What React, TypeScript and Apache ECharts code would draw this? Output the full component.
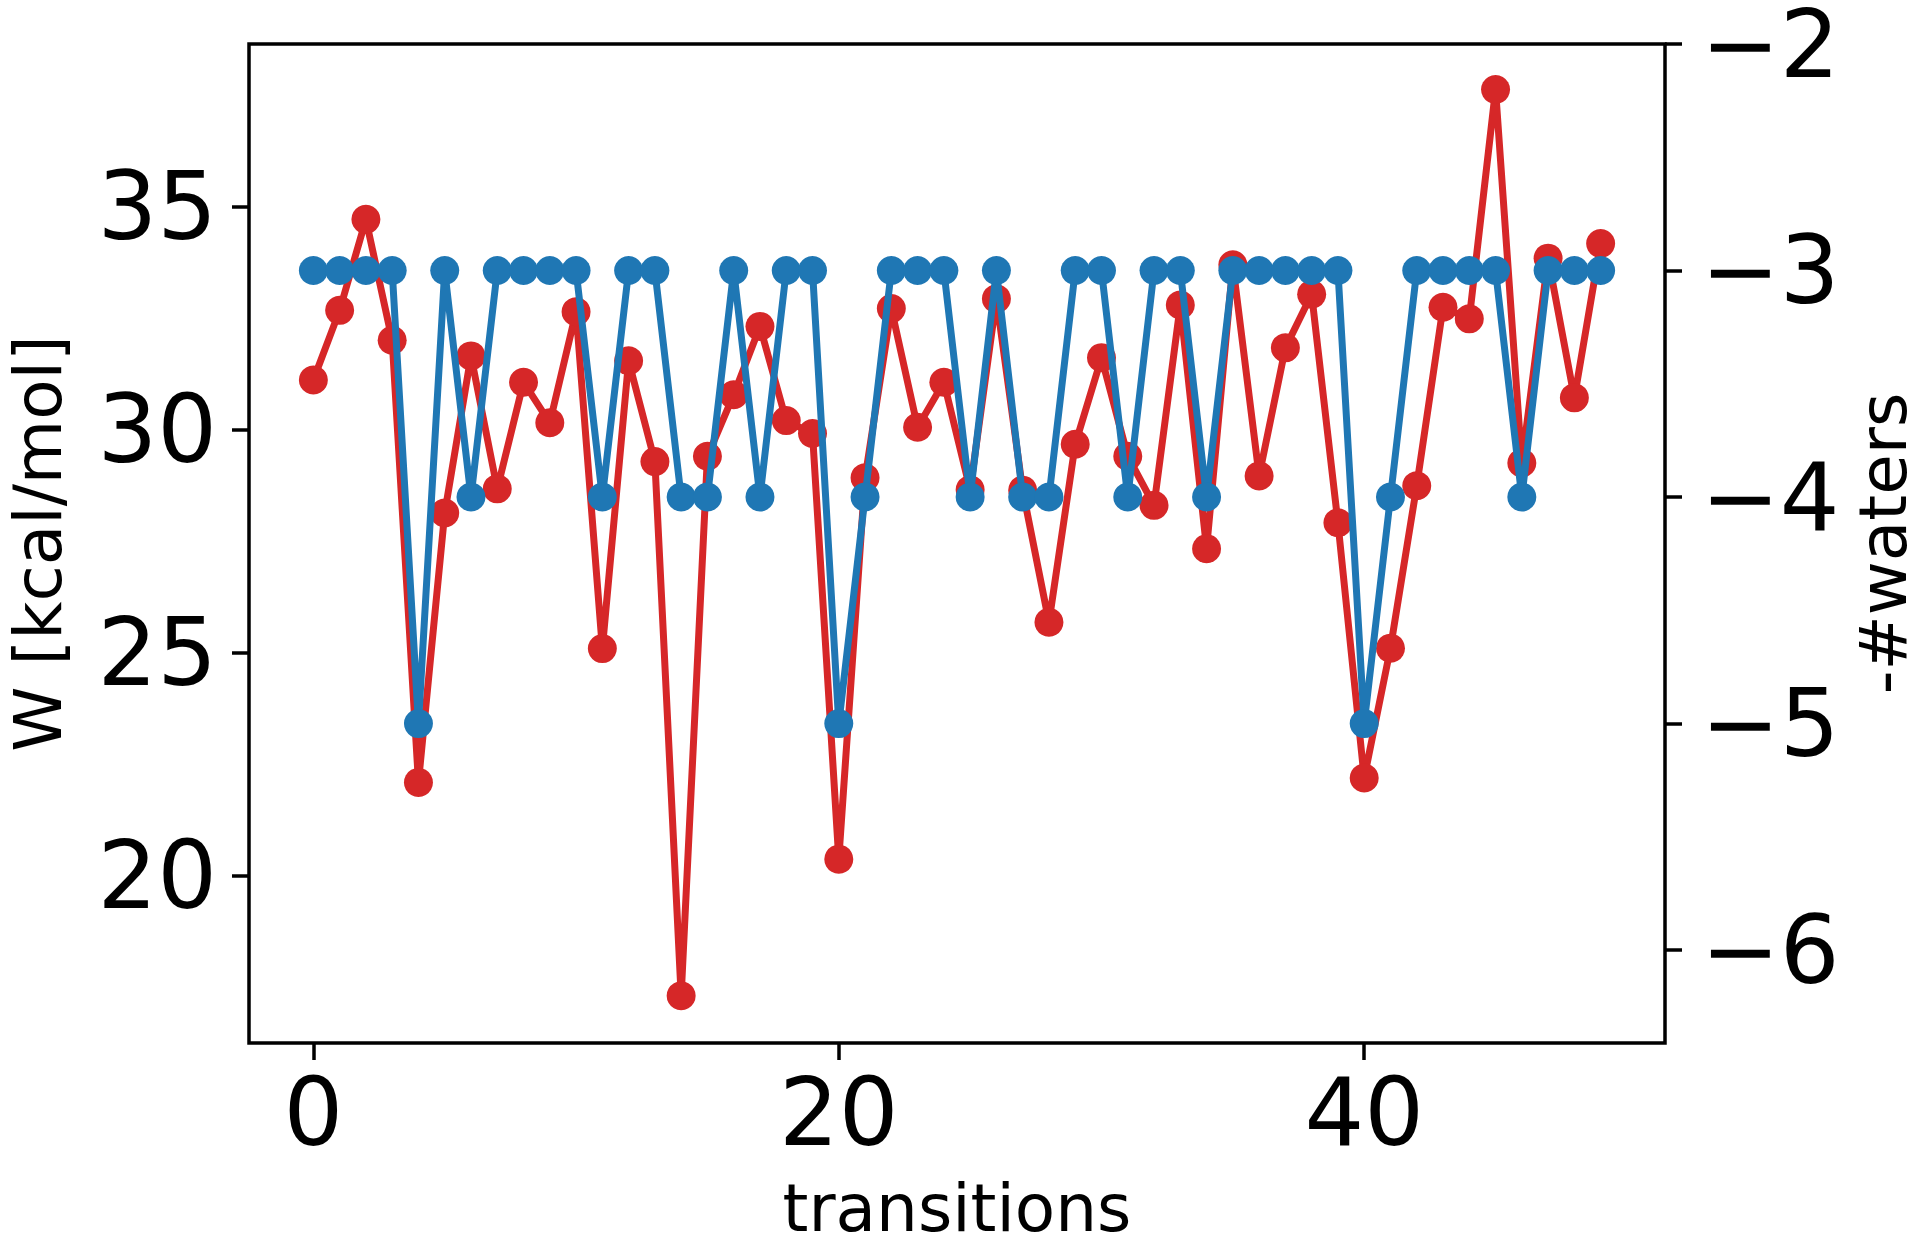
import React, { useEffect, useRef } from "react";
import * as echarts from "echarts";

const transitions = [
  0, 1, 2, 3, 4, 5, 6, 7, 8, 9, 10, 11, 12, 13, 14, 15, 16, 17, 18, 19, 20, 21, 22, 23, 24,
  25, 26, 27, 28, 29, 30, 31, 32, 33, 34, 35, 36, 37, 38, 39, 40, 41, 42, 43, 44, 45, 46, 47, 48, 49,
];

const workValues = [
  31.11, 32.67, 34.71, 32.0, 22.09, 28.13, 31.65, 28.67, 31.06, 30.15,
  32.64, 25.09, 31.54, 29.28, 17.31, 29.4, 30.78, 32.31, 30.2, 29.91,
  20.37, 28.92, 32.71, 30.05, 31.06, 28.65, 32.93, 28.64, 25.68, 29.67,
  31.61, 29.4, 28.3, 32.79, 27.33, 33.69, 28.96, 31.83, 33.03, 27.91,
  22.19, 25.1, 28.74, 32.74, 32.48, 37.62, 29.25, 33.84, 30.71, 34.17,
];

const negWaters = [
  -3, -3, -3, -3, -5, -3, -4, -3, -3, -3,
  -3, -4, -3, -3, -4, -4, -3, -4, -3, -3,
  -5, -4, -3, -3, -3, -4, -3, -4, -4, -3,
  -3, -4, -3, -3, -4, -3, -3, -3, -3, -3,
  -5, -4, -3, -3, -3, -3, -4, -3, -3, -3,
];

const xTicks = [0, 20, 40];
const leftTicks = [20, 25, 30, 35];
const rightTicks = [-6, -5, -4, -3, -2];

const FONT = "DejaVu Sans";
const fmt = (v: number) => (v < 0 ? "\u2212" + Math.abs(v) : String(v));

export default function App() {
  const ref = useRef<HTMLDivElement>(null);
  useEffect(() => {
    document.body.style.margin = "0";
    const chart = echarts.init(ref.current!, null, { renderer: "svg" });
    const tickStyle = { show: true, length: 17, lineStyle: { color: "#000", width: 3.5 } };
    chart.setOption({
      animation: false,
      backgroundColor: "#fff",
      grid: {
        left: 249,
        right: 255,
        top: 44,
        bottom: 205,
        containLabel: false,
        outerBoundsMode: "none",
        show: true,
        borderColor: "#000",
        borderWidth: 3.5,
        backgroundColor: "transparent",
      },
      xAxis: {
        type: "value",
        min: -2.45,
        max: 51.45,
        name: "transitions",
        nameLocation: "middle",
        nameGap: 132,
        nameTextStyle: { fontFamily: FONT, fontSize: 66, color: "#000" },
        axisLine: { show: false, onZero: false },
        axisTick: { ...tickStyle, customValues: xTicks },
        axisLabel: {
          customValues: xTicks,
          fontFamily: FONT,
          fontSize: 94,
          color: "#000",
          margin: 22,
          formatter: fmt,
        },
        splitLine: { show: false },
      },
      yAxis: [
        {
          type: "value",
          position: "left",
          min: 16.25,
          max: 38.64,
          name: "W [kcal/mol]",
          nameLocation: "middle",
          nameGap: 178,
          nameTextStyle: { fontFamily: FONT, fontSize: 66, color: "#000" },
          axisLine: { show: false, onZero: false },
          axisTick: { ...tickStyle, customValues: leftTicks },
          axisLabel: {
            customValues: leftTicks,
            fontFamily: FONT,
            fontSize: 94,
            color: "#000",
            margin: 32,
            formatter: fmt,
          },
          splitLine: { show: false },
        },
        {
          type: "value",
          position: "right",
          min: -6.41,
          max: -2,
          name: "-#waters",
          nameLocation: "middle",
          nameGap: 181,
          nameRotate: 90,
          nameTextStyle: { fontFamily: FONT, fontSize: 66, lineHeight: 60, color: "#000" },
          axisLine: { show: false, onZero: false },
          axisTick: { ...tickStyle, customValues: rightTicks },
          axisLabel: {
            customValues: rightTicks,
            fontFamily: FONT,
            fontSize: 94,
            lineHeight: 80,
            color: "#000",
            margin: 36,
            formatter: fmt,
          },
          splitLine: { show: false },
        },
      ],
      series: [
        {
          type: "line",
          name: "W",
          yAxisIndex: 0,
          z: 2,
          data: transitions.map((x, i) => [x, workValues[i]]),
          symbol: "circle",
          symbolSize: 29,
          showAllSymbol: true,
          lineStyle: { color: "#d62728", width: 7 },
          itemStyle: { color: "#d62728" },
        },
        {
          type: "line",
          name: "-#waters",
          yAxisIndex: 1,
          z: 3,
          data: transitions.map((x, i) => [x, negWaters[i]]),
          symbol: "circle",
          symbolSize: 29,
          showAllSymbol: true,
          lineStyle: { color: "#1f77b4", width: 7 },
          itemStyle: { color: "#1f77b4" },
        },
      ],
    });
    return () => chart.dispose();
  }, []);
  return <div ref={ref} style={{ width: 1920, height: 1248 }} />;
}
